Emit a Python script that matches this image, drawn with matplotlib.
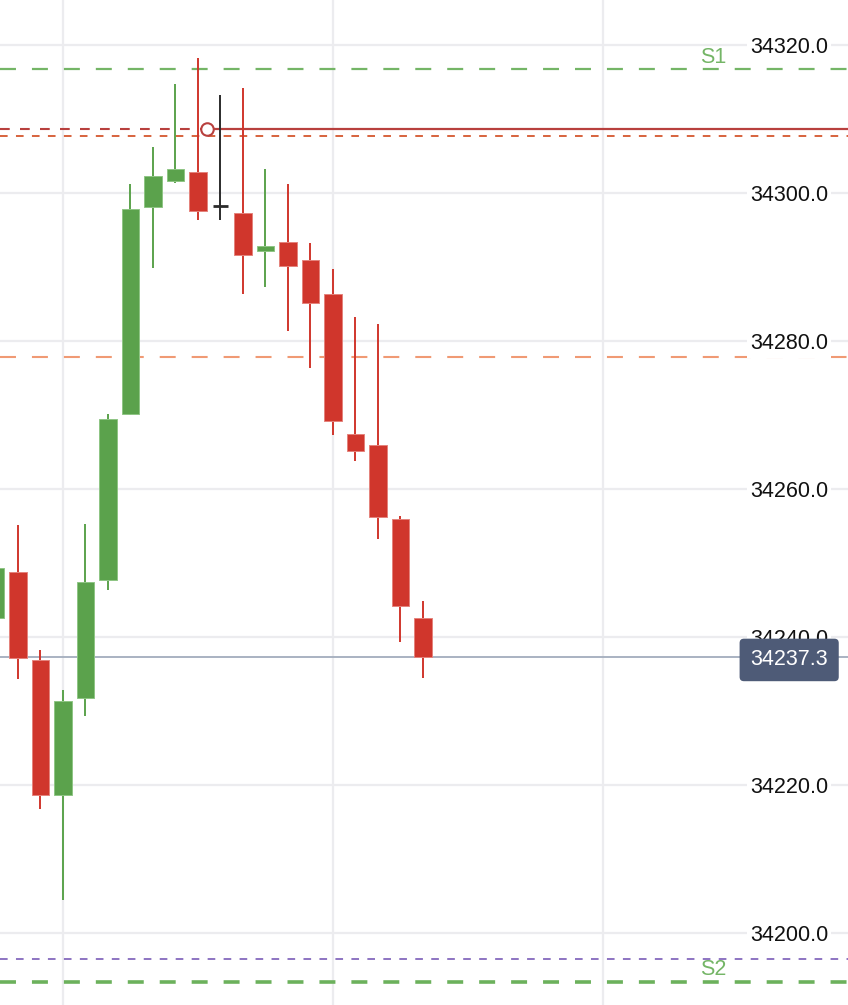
import matplotlib
matplotlib.use("Agg")
import matplotlib.pyplot as plt
import matplotlib.transforms as mtransforms
import numpy as np

plt.rcParams["font.family"] = ["Liberation Sans", "DejaVu Sans"]
plt.rcParams["lines.scale_dashes"] = False

# ---- candle data ----
opens  = [34242.6, 34248.8, 34236.9, 34218.7, 34231.7, 34247.7, 34270.2, 34298.1, 34301.6, 34302.8,
          34298.3, 34297.3, 34292.2, 34293.4, 34290.9, 34286.4, 34267.4, 34265.9, 34255.9, 34242.5]
highs  = [34251.0, 34255.1, 34238.2, 34232.8, 34255.3, 34270.2, 34301.2, 34306.2, 34314.7, 34318.2,
          34313.2, 34314.2, 34303.2, 34301.2, 34293.2, 34289.7, 34283.3, 34282.3, 34256.3, 34244.9]
lows   = [34241.0, 34234.3, 34216.7, 34204.4, 34229.3, 34246.3, 34270.0, 34289.8, 34301.3, 34296.3,
          34296.3, 34286.3, 34287.3, 34281.3, 34276.3, 34267.3, 34263.8, 34253.3, 34239.3, 34234.4]
closes = [34249.3, 34237.1, 34218.6, 34231.4, 34247.4, 34269.4, 34297.8, 34302.3, 34303.3, 34297.6,
          34298.3, 34291.6, 34292.8, 34290.1, 34285.2, 34269.2, 34265.2, 34256.2, 34244.2, 34237.3]
doji_idx = 10                      # the dark "selected" candle

# ---- levels ----
S1, S2 = 34316.7, 34193.4
ENTRY, ENTRY_X = 34308.6, 9.4
TARGET = 34307.7
MID = 34277.9
LOW_LVL = 34196.5
LAST = 34237.3
YTICKS = [34200, 34220, 34240, 34260, 34280, 34300, 34320]
XGRID = [3, 15, 27]

GREEN, GREEN_E = "#5ba24c", "#8fc584"
RED, RED_E = "#d0362c", "#e4837c"
GRID = "#ececef"

fig = plt.figure(figsize=(8.48, 10.05), dpi=100)
ax = fig.add_axes([0, 0, 1, 1])
ax.set_xlim(0.2, 37.89)
ax.set_ylim(34190.27, 34326.08)
for s in ax.spines.values():
    s.set_visible(False)
ax.set_xticks(XGRID)
ax.set_yticks(YTICKS)
ax.tick_params(length=0, labelleft=False, labelbottom=False)
ax.grid(True, color=GRID, lw=1.6, zorder=0)
ax.set_axisbelow(True)

x = np.arange(len(opens))
o, h, l, c = map(np.array, (opens, highs, lows, closes))
up = c >= o
col = np.where(up, GREEN, RED)
ecol = np.where(up, GREEN_E, RED_E)
norm = x != doji_idx

ax.vlines(x[norm], l[norm], h[norm], colors=col[norm], lw=1.4, zorder=3)
bottom = np.minimum(o, c)
height = np.maximum(np.abs(c - o), 0.6)
ax.bar(x[norm], height[norm], bottom=bottom[norm], width=0.79, color=col[norm],
       edgecolor=ecol[norm], lw=0.7, zorder=4)
# dark doji candle
ax.vlines(x[doji_idx], l[doji_idx], h[doji_idx], colors="#2b2b2b", lw=1.4, zorder=4)
ax.hlines(o[doji_idx], x[doji_idx] - 0.33, x[doji_idx] + 0.33, colors="#2b2b2b", lw=2.0, zorder=4)

# ---- horizontal levels ----
xl = ax.get_xlim()
ax.axhline(S1, color="#74b566", lw=1.6, dashes=(11.5, 11.5), zorder=2)
ax.axhline(S2, color="#6cb15c", lw=2.6, dashes=(11.5, 11.5), zorder=2)
ax.hlines(ENTRY, xl[0], ENTRY_X, color="#b8403e", lw=1.5, linestyles=(0, (7, 7.4)), zorder=2)
ax.hlines(ENTRY, ENTRY_X, xl[1], color="#b8403e", lw=1.6, zorder=2)
ax.plot([ENTRY_X], [ENTRY], "o", ms=9, mfc="white", mec="#b8403e", mew=1.5, zorder=6)
ax.axhline(TARGET, color="#d4572e", lw=1.3, dashes=(5.5, 6), zorder=2)
ax.axhline(MID, color="#f09a74", lw=1.5, dashes=(11.5, 11.5), zorder=2)
ax.axhline(LOW_LVL, color="#7a5cb8", lw=1.2, dashes=(5.5, 6), zorder=2)
ax.axhline(LAST, color="#a3adbd", lw=1.3, zorder=2)

tr = mtransforms.blended_transform_factory(ax.transAxes, ax.transData)
for v in YTICKS:
    ax.text(0.9764, v - 0.4, f"{v:.1f}", transform=tr, ha="right", va="center", fontsize=15.5,
            color="#111111", zorder=5,
            bbox=dict(boxstyle="square,pad=0.15", fc="white", ec="none"))
ax.text(0.841, S1 + 0.8, "S1", transform=tr, ha="center", va="baseline", fontsize=15.5,
        color="#74b566", zorder=5)
ax.text(0.841, S2 + 0.95, "S2", transform=tr, ha="center", va="baseline", fontsize=15.5,
        color="#74b566", zorder=5)
ax.text(0.9764, LAST - 0.4, f"{LAST:.1f}", transform=tr, ha="right", va="center", fontsize=15.5,
        color="white", zorder=7,
        bbox=dict(boxstyle="round,pad=0.5,rounding_size=0.2", fc="#4e5b77", ec="none"))

fig.savefig("out.png", dpi=100)
